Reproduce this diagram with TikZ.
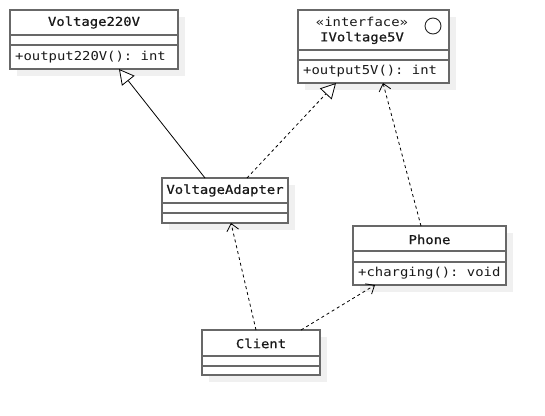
\documentclass[tikz,border=0pt]{standalone}
\usepackage{fontspec}
\setmonofont{DejaVu Sans Mono}[FakeStretch=1.13]
\newfontfamily\umltitlefont{DejaVu Sans Mono}[FakeStretch=1.13, FakeBold=0.7]
\usetikzlibrary{arrows.meta,shadows}
\definecolor{boxgray}{HTML}{686868}
\definecolor{shadowgray}{HTML}{F0F0F0}
\tikzset{
  classbox/.style={draw=boxgray, line width=1.4pt, fill=white, inner sep=0pt, outer sep=0pt, anchor=north west,
    drop shadow={shadow xshift=7pt, shadow yshift=-7pt, fill=shadowgray, opacity=1}},
  divider/.style={draw=boxgray, line width=1.4pt},
  title/.style={font=\umltitlefont\fontsize{12.3}{14}\selectfont, inner sep=0pt, text=black!90},
  stereo/.style={font=\ttfamily\fontsize{12.3}{14}\selectfont, inner sep=0pt, text=black!90},
  member/.style={font=\ttfamily\fontsize{12.3}{14}\selectfont, inner sep=0pt, anchor=west, text=black!90},
  conn/.style={draw=black, line width=0.8pt},
  dash3/.style={dash pattern=on 3pt off 3pt},
  inherit/.style={-{Triangle[open, length=15pt, width=16pt, fill=white, line width=0.8pt]}},
  depend/.style={-{Straight Barb[length=7pt, width=12pt, line width=0.8pt]}}
}
\begin{document}
\begin{tikzpicture}[x=1pt,y=-1pt]
\useasboundingbox (0,0) rectangle (545,415);
% Voltage220V
\node[classbox, minimum width=168pt, minimum height=59pt] (v220) at (10,10) {};
\draw[divider] ([yshift=-25pt]v220.north west) -- ([yshift=-25pt]v220.north east);
\draw[divider] ([yshift=-35pt]v220.north west) -- ([yshift=-35pt]v220.north east);
\node[title] (v220t) at (94,22.5) {Voltage220V};
\node[member] (v220m) at (15,57) {+output220V(): int};
% IVoltage5V
\node[classbox, minimum width=151pt, minimum height=73pt] (i5v) at (298,10) {};
\draw[divider] ([yshift=-40pt]i5v.north west) -- ([yshift=-40pt]i5v.north east);
\draw[divider] ([yshift=-50pt]i5v.north west) -- ([yshift=-50pt]i5v.north east);
\node[stereo] (i5vs) at (362,22) {«interface»};
\node[title] (i5vt) at (362,38) {IVoltage5V};
\node[draw=black!85, line width=0.9pt, circle, minimum size=16pt, inner sep=0pt] (i5vc) at (433,26) {};
\node[member] (i5vm) at (303,71.5) {+output5V(): int};
% VoltageAdapter
\node[classbox, minimum width=126pt, minimum height=45pt] (adapter) at (162,178) {};
\draw[divider] ([yshift=-25pt]adapter.north west) -- ([yshift=-25pt]adapter.north east);
\draw[divider] ([yshift=-35pt]adapter.north west) -- ([yshift=-35pt]adapter.north east);
\node[title] (adaptert) at (225,190.5) {VoltageAdapter};
% Phone
\node[classbox, minimum width=153pt, minimum height=59pt] (phone) at (353,226) {};
\draw[divider] ([yshift=-25pt]phone.north west) -- ([yshift=-25pt]phone.north east);
\draw[divider] ([yshift=-36pt]phone.north west) -- ([yshift=-36pt]phone.north east);
\node[title] (phonet) at (429.5,239.5) {Phone};
\node[member] (phonem) at (358,273.5) {+charging(): void};
% Client
\node[classbox, minimum width=118pt, minimum height=45pt] (client) at (202,330) {};
\draw[divider] ([yshift=-26pt]client.north west) -- ([yshift=-26pt]client.north east);
\draw[divider] ([yshift=-36pt]client.north west) -- ([yshift=-36pt]client.north east);
\node[title] (clientt) at (261,343.5) {Client};
% connectors
\draw[conn, inherit] ([xshift=-20pt]adapter.north) -- ([xshift=25pt]v220.south);
\draw[conn, dash3, inherit] ([xshift=22pt]adapter.north) -- ([xshift=-37.5pt]i5v.south);
\draw[conn, dash3, depend] ([xshift=-8.5pt]phone.north) -- ([xshift=9.5pt]i5v.south);
\draw[conn, dash3, depend] ([xshift=-5pt]client.north) -- ([xshift=6pt]adapter.south);
\draw[conn, dash3, depend] ([xshift=40pt]client.north) -- ([xshift=-54.5pt]phone.south);
\end{tikzpicture}
\end{document}
